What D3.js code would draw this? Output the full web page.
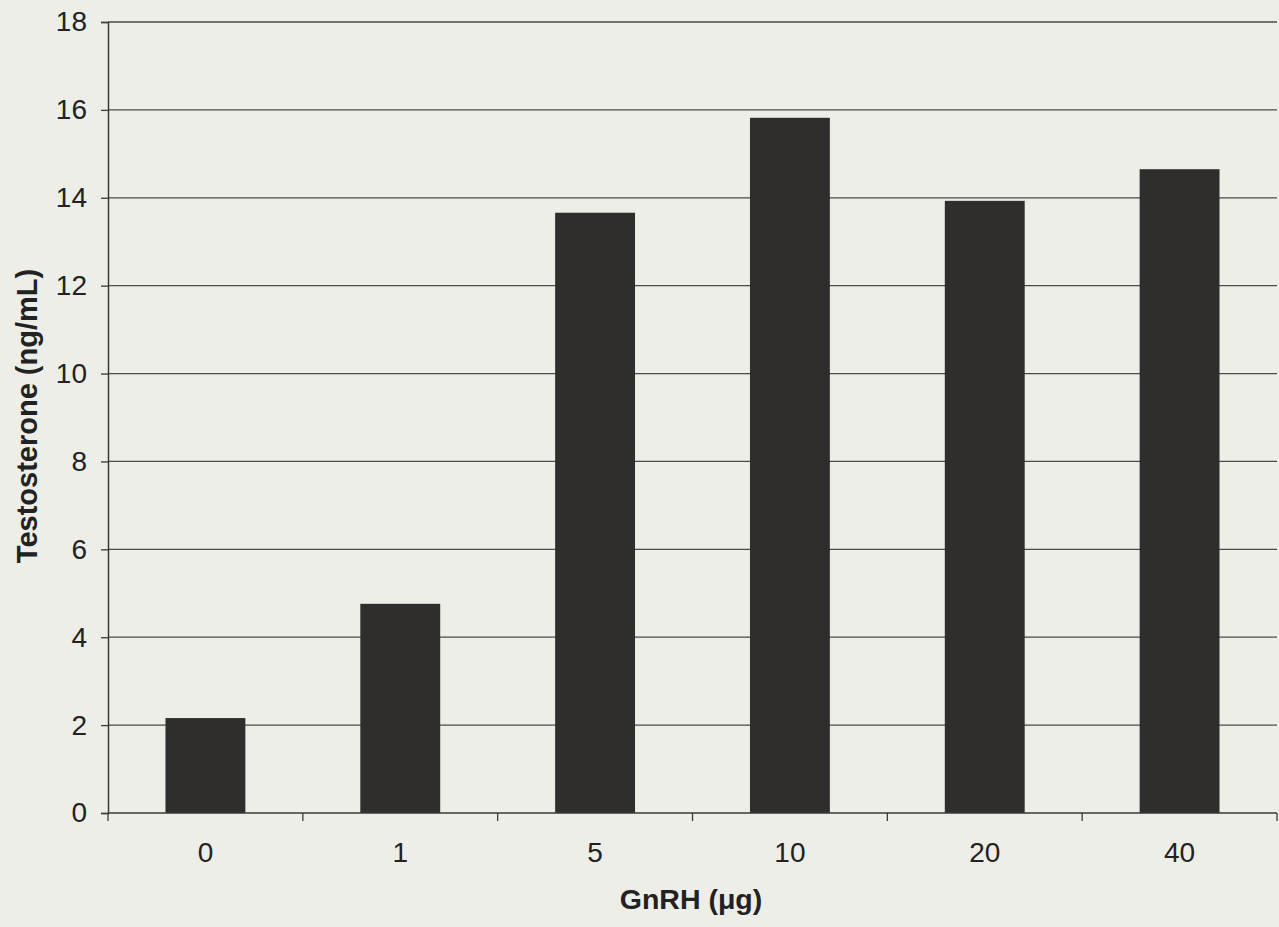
<!DOCTYPE html>
<html><head><meta charset="utf-8">
<script src="https://cdn.jsdelivr.net/npm/d3@7"></script>
<style>
html,body{margin:0;padding:0;background:#eceee7;}
svg{display:block;font-family:"Liberation Sans",Arial,sans-serif;}
</style></head>
<body>
<svg id="chart" width="1279" height="927"></svg>
<script>
const categories = ["0","1","5","10","20","40"];
const values = [2.16, 4.76, 13.66, 15.82, 13.93, 14.65];
const yTicks = [0,2,4,6,8,10,12,14,16,18];
const xTitle = "GnRH (\u03bcg)";
const yTitle = "Testosterone (ng/mL)";

const svg = d3.select("#chart");
const m = {left:108, right:1277, top:22, bottom:813};

const x = d3.scaleBand().domain(categories).range([m.left, m.right]).paddingInner(0.59).paddingOuter(0.295);
const xb = d3.scaleBand().domain(categories).range([m.left, m.right]);
const y = d3.scaleLinear().domain([0,18]).range([m.bottom, m.top]);

// gridlines
svg.append("g").selectAll("line").data(yTicks.filter(d=>d>0)).join("line")
  .attr("x1", m.left).attr("x2", m.right)
  .attr("y1", d=>y(d)).attr("y2", d=>y(d))
  .attr("stroke", "#4a4a48").attr("stroke-width", 1.3);

// bars
svg.append("g").selectAll("rect").data(values).join("rect")
  .attr("x", (d,i)=>x(categories[i]))
  .attr("width", x.bandwidth())
  .attr("y", d=>y(d))
  .attr("height", d=>y(0)-y(d))
  .attr("fill", "#302e2c");

// y axis
const ya = svg.append("g").attr("transform", `translate(${m.left},0)`)
  .call(d3.axisLeft(y).tickValues(yTicks).tickSize(7).tickPadding(14));
ya.select(".domain").attr("stroke", "#3a3a38").attr("stroke-width", 1.5);
ya.selectAll(".tick line").attr("stroke", "#3a3a38").attr("stroke-width", 1.3);
ya.selectAll("text").attr("font-size", 28).attr("fill", "#222").attr("font-family", "Liberation Sans, Arial, sans-serif");

// x axis line with ticks at band boundaries
const xa = svg.append("g").attr("transform", `translate(0,${m.bottom})`)
  .call(d3.axisBottom(x).tickSize(0).tickPadding(29));
xa.select(".domain").remove();
xa.selectAll("text").attr("font-size", 28).attr("fill", "#222").attr("font-family", "Liberation Sans, Arial, sans-serif");
svg.append("line").attr("x1", m.left).attr("x2", m.right).attr("y1", m.bottom).attr("y2", m.bottom)
  .attr("stroke", "#3a3a38").attr("stroke-width", 1.5);
const bounds = categories.map(c=>xb(c)).concat([m.right]);
svg.append("g").selectAll("line").data(bounds).join("line")
  .attr("x1", d=>d).attr("x2", d=>d).attr("y1", m.bottom).attr("y2", m.bottom+8)
  .attr("stroke", "#3a3a38").attr("stroke-width", 1.3);

// titles
svg.append("text").attr("x", 691).attr("y", 909).attr("text-anchor","middle")
  .attr("font-size", 28.5).attr("font-weight","bold").attr("fill","#222").text(xTitle);
svg.append("text").attr("transform", `translate(37,416) rotate(-90)`).attr("text-anchor","middle")
  .attr("font-size", 29).attr("font-weight","bold").attr("fill","#222").text(yTitle);
</script>
</body></html>
